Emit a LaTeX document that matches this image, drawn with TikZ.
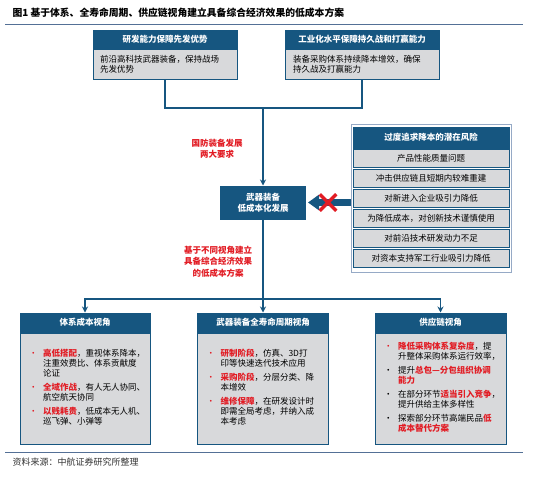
\documentclass[tikz,border=0pt]{standalone}
\usepackage{fontspec}
\setmainfont{Noto Sans CJK SC}
\usepackage{tikz}
\usetikzlibrary{arrows.meta,shapes.misc,positioning}

\definecolor{hdblue}{RGB}{22,86,128}
\definecolor{boxgray}{RGB}{216,217,219}
\definecolor{keyred}{RGB}{226,28,36}
\definecolor{rulecol}{RGB}{84,112,150}
\definecolor{framecol}{RGB}{150,170,198}

\newcommand{\kw}[1]{\textcolor{keyred}{\bfseries #1}}
\newcommand{\rdot}{\textcolor{keyred}{•}}

\begin{document}
\begin{tikzpicture}[x=1pt, y=-1pt,
    head/.style={draw=hdblue, fill=hdblue, text=white, line width=1pt, inner sep=0pt,
      font=\bfseries\fontsize{8.5}{10}\selectfont},
    body/.style={draw=hdblue, fill=boxgray, line width=1pt, inner ysep=0pt, align=left,
      font=\fontsize{8.5}{10}\selectfont},
    riskitem/.style={draw=hdblue, fill=boxgray, line width=1pt, inner sep=0pt,
      minimum width=156pt, minimum height=18pt, font=\fontsize{8.5}{10}\selectfont},
    conn/.style={draw=hdblue, line width=1.1pt},
    note/.style={text=keyred, align=center, font=\bfseries\fontsize{8.5}{11.5}\selectfont},
    rule/.style={draw=rulecol, line width=0.8pt},
    >={Stealth[length=6pt,width=6pt]}]
    \fill[white] (0,0) rectangle (556,485);
    \useasboundingbox (0,0) rectangle (556,485);

    % Title and rules
    \node[anchor=west, font=\bfseries\fontsize{9.8}{11}\selectfont] (title) at (9,13)
      {图1\ 基于体系、全寿命周期、供应链视角建立具备综合经济效果的低成本方案};
    \draw[rule] (5,24) -- (523,24);
    \draw[rule] (5,452) -- (523,452);
    \node[anchor=west, text=black!80, font=\fontsize{9}{11}\selectfont] (src) at (9,462)
      {资料来源：中航证券研究所整理};

    % Two requirements
    \node[head, minimum width=144pt, minimum height=18pt] (rd) at (165,39) {研发能力保障先发优势};
    \node[body, text width=130pt, inner xsep=7pt, minimum height=30pt, below=0pt of rd] (rdbody)
      {前沿高科技武器装备，保持战场\\先发优势};
    \node[head, minimum width=154pt, minimum height=18pt] (ind) at (362,39) {工业化水平保障持久战和打赢能力};
    \node[body, text width=138pt, inner xsep=8pt, minimum height=30pt, below=0pt of ind] (indbody)
      {装备采购体系持续降本增效，确保\\持久战及打赢能力};

    % Low cost development
    \coordinate (join) at (263,108);
    \node[head, minimum width=85pt, minimum height=33pt, align=center,
      font=\bfseries\fontsize{8.5}{11}\selectfont] (cost) at (263,202.5) {武器装备\\低成本化发展};
    \node[note] (req) at (217,148.5) {国防装备发展\\两大要求};
    \node[note] (plan) at (218,261.5) {基于不同视角建立\\具备综合经济效果\\的低成本方案};

    % Risks
    \node[draw=framecol, line width=0.8pt, minimum width=160pt, minimum height=148pt] (panel) at (431,198) {};
    \node[head, minimum width=156pt, minimum height=21pt] (riskhd) at (431,137.5) {过度追求降本的潜在风险};
    \node[riskitem] (risk1) at (431,158) {产品性能质量问题};
    \node[riskitem] (risk2) at (431,178) {冲击供应链且短期内较难重建};
    \node[riskitem] (risk3) at (431,198) {对新进入企业吸引力降低};
    \node[riskitem] (risk4) at (431,218) {为降低成本，对创新技术谨慎使用};
    \node[riskitem] (risk5) at (431,238) {对前沿技术研发动力不足};
    \node[riskitem] (risk6) at (431,258) {对资本支持军工行业吸引力降低};

    % Three views
    \coordinate (split) at (263,299);
    \node[head, minimum width=130pt, minimum height=19pt] (sys) at (85,322.5) {体系成本视角};
    \node[body, text width=112pt, inner xsep=9pt, minimum height=111pt, below=0pt of sys] (sysbody)
      {\begin{tabular}{@{}p{14pt}@{}l@{}}
        \rdot & \kw{高低搭配}，重视体系降本，\\
              & 注重效费比、体系贡献度\\
              & 论证\\[3.5pt]
        \rdot & \kw{全域作战}，有人无人协同、\\
              & 航空航天协同\\[3.5pt]
        \rdot & \kw{以贱耗贵}，低成本无人机、\\
              & 巡飞弹、小弹等
      \end{tabular}};
    \node[head, minimum width=131pt, minimum height=19pt] (life) at (263,322.5) {武器装备全寿命周期视角};
    \node[body, text width=113pt, inner xsep=9pt, minimum height=111pt, below=0pt of life] (lifebody)
      {\begin{tabular}{@{}p{14pt}@{}l@{}}
        \rdot & \kw{研制阶段}，仿真、3D打\\
              & 印等快速迭代技术应用\\[3.5pt]
        \rdot & \kw{采购阶段}，分层分类、降\\
              & 本增效\\[3.5pt]
        \rdot & \kw{维修保障}，在研发设计时\\
              & 即需全局考虑，并纳入成\\
              & 本考虑
      \end{tabular}};
    \node[head, minimum width=131pt, minimum height=19pt] (sup) at (440.5,322.5) {供应链视角};
    \node[body, text width=113pt, inner xsep=9pt, minimum height=111pt, below=0pt of sup] (supbody)
      {\begin{tabular}{@{}p{14pt}@{}l@{}}
        \rdot & \kw{降低采购体系复杂度}，提\\
              & 升整体采购体系运行效率，\\[3.5pt]
        •     & 提升\kw{总包—分包组织协调}\\
              & \kw{能力}\\[3.5pt]
        •     & 在部分环节\kw{适当引入竞争}，\\
              & 提升供给主体多样性\\[3.5pt]
        •     & 探索部分环节高端民品\kw{低}\\
              & \kw{成本替代方案}
      \end{tabular}};

    % Edges
    \draw[conn] (rdbody.south) |- (join) -| (indbody.south);
    \draw[conn] (join) edge[->] (cost.north)
                (cost.south) -- (split)
                (split) edge[->] (life.north);
    \draw[conn, ->] (split) -| (sys.north);
    \draw[conn, ->] (split) -| (sup.north);
    \draw[draw=hdblue, line width=7pt, -{Triangle[length=11pt,width=15pt]}]
      (panel.west |- cost) -- ([xshift=2pt]cost.east);
    \node[cross out, draw=keyred, line width=3.5pt, minimum size=13pt, inner sep=0pt] (nogo) at (328,202.5) {};
\end{tikzpicture}
\end{document}
